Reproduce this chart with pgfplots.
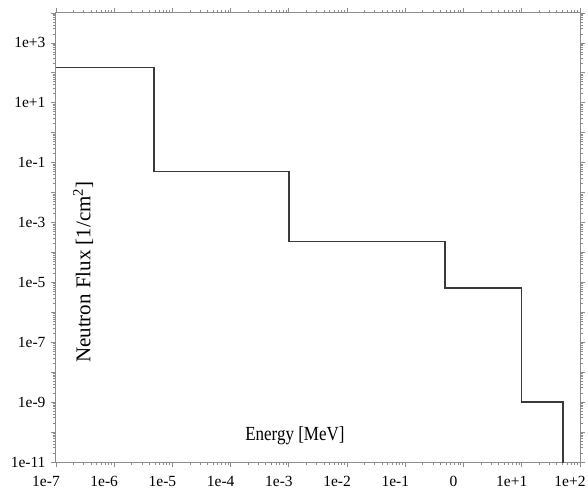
\documentclass[border=0pt]{standalone}
\usepackage{pgfplots}
\pgfplotsset{compat=1.18}
\usepackage{fontspec}
\setmainfont{Liberation Serif}

\definecolor{axisgray}{HTML}{8C8C8C}
\definecolor{stepline}{HTML}{3A3A3A}

\begin{document}
\begin{tikzpicture}[x=1pt,y=1pt]
\path[use as bounding box] (0,0) rectangle (588,494);
\begin{axis}[
    at={(56pt,32pt)}, anchor=south west,
    scale only axis, width=524pt, height=449pt,
    xmode=log, ymode=log,
    xmin=1e-7, xmax=1e2, ymin=1e-11, ymax=1e4,
    xtick={1e-7,1e-6,1e-5,1e-4,1e-3,1e-2,1e-1,1,1e1,1e2},
    xticklabels={1e-7,1e-6,1e-5,1e-4,1e-3,1e-2,1e-1,0,1e+1,1e+2},
    ytick={1e-11,1e-10,1e-9,1e-8,1e-7,1e-6,1e-5,1e-4,1e-3,1e-2,1e-1,1,1e1,1e2,1e3,1e4},
    yticklabels={1e-11,{},1e-9,{},1e-7,{},1e-5,{},1e-3,{},1e-1,{},1e+1,{},1e+3,{}},
    tick align=outside,
    major tick length=5pt, minor tick length=3pt,
    every tick/.style={axisgray, line width=0.8pt},
    axis line style={axisgray, line width=1pt},
    tick label style={font=\fontsize{15.5}{15.5}\selectfont, black},
    xticklabel style={anchor=north, xshift=-10pt, yshift=-6pt},
    yticklabel style={xshift=-2pt},
    xlabel={Energy [MeV]},
    ylabel={Neutron Flux [1/cm\textsuperscript{2}]},
    xlabel style={at={(rel axis cs:0.456,0.058)}, anchor=center,
        font=\fontsize{20}{20}\selectfont, xscale=0.85},
    ylabel style={at={(rel axis cs:0.052,0.423)}, anchor=center,
        font=\fontsize{21}{21}\selectfont},
]
\addplot[const plot, stepline, line width=1.4pt] coordinates {
    (1e-7,150) (4.8e-6,0.051) (1e-3,2.3e-4) (0.48,6.6e-6) (10,1e-9) (51,1e-14)
};
\end{axis}
\end{tikzpicture}
\end{document}
